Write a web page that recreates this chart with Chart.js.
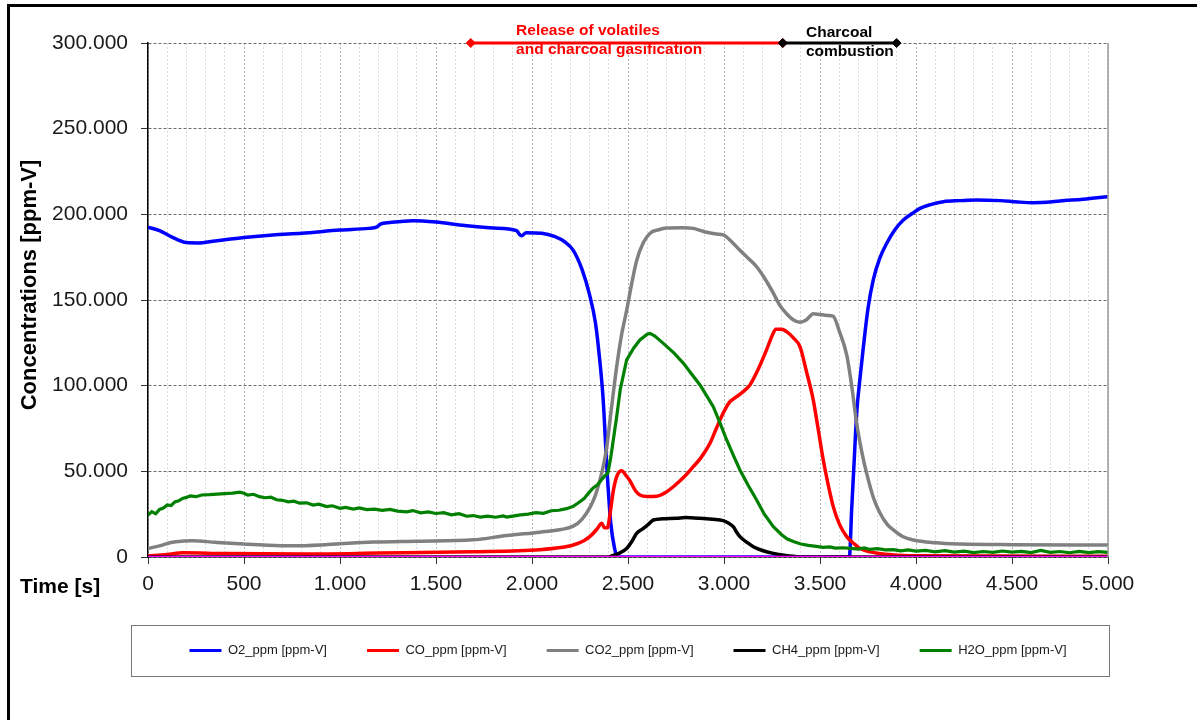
<!DOCTYPE html>
<html>
<head>
<meta charset="utf-8">
<script src="https://cdn.jsdelivr.net/npm/chart.js@4"></script>
<style>
  html, body { margin: 0; padding: 0; background: #fff; }
  #wrap { position: relative; width: 1197px; height: 720px; overflow: hidden; }
  #frame { position: absolute; left: 7px; top: 4px; width: 1300px; height: 800px;
           border-left: 3px solid #000; border-top: 3px solid #000; pointer-events: none; }
  canvas { position: absolute; left: 0; top: 0; }
</style>
</head>
<body>
<div id="wrap">
  <canvas id="chart" width="1197" height="720"></canvas>
  <div id="frame"></div>
</div>
<script>
// series labels (magenta baseline is not in the legend)
const seriesLabels = ['O2_ppm [ppm-V]', 'CO_ppm [ppm-V]', 'CO2_ppm [ppm-V]', 'CH4_ppm [ppm-V]', 'H2O_ppm [ppm-V]'];

// O2
const o2Time = [0, 60, 120, 200, 260, 350, 500, 650, 800, 1000, 1150, 1190, 1210, 1260, 1380, 1500, 1650, 1800, 1920, 1935, 1945, 1970, 2050, 2120, 2170, 2215, 2260, 2300, 2330, 2350, 2370, 2390, 2410, 2430, 2445, 3000, 3653, 3665, 3678, 3691, 3710, 3726, 3750, 3778, 3810, 3847, 3890, 3934, 3980, 4021, 4080, 4142, 4230, 4316, 4437, 4530, 4611, 4680, 4750, 4870, 5000];
const o2Values = [192500, 190500, 187000, 183500, 183300, 184500, 186500, 188000, 189000, 190800, 191800, 192500, 194300, 195200, 196300, 195500, 193500, 192000, 190500, 188200, 187500, 189300, 189000, 187000, 184000, 179000, 168000, 153000, 137000, 118000, 93000, 52000, 20000, 5000, 0, 0, 0, 28000, 56000, 84000, 106000, 122700, 145000, 162000, 174000, 183000, 191000, 196700, 200500, 203500, 205800, 207400, 208000, 208400, 208000, 207200, 206800, 207000, 207800, 208800, 210300];

// CO
const coTime = [0, 100, 184, 400, 826, 1200, 1694, 2042, 2150, 2215, 2270, 2302, 2340, 2363, 2378, 2392, 2410, 2424, 2445, 2467, 2490, 2510, 2540, 2562, 2600, 2649, 2700, 2736, 2790, 2840, 2880, 2927, 2960, 2996, 3030, 3066, 3100, 3135, 3180, 3222, 3250, 3270, 3300, 3326, 3360, 3396, 3430, 3465, 3490, 3517, 3545, 3569, 3600, 3639, 3680, 3708, 3760, 3880, 4000, 5000];
const coValues = [600, 1500, 2500, 2000, 1800, 2300, 3100, 4300, 5500, 7000, 9500, 12000, 16500, 19700, 17000, 17000, 28000, 39000, 48000, 50400, 47500, 44500, 38500, 36200, 35300, 35500, 38000, 41000, 46500, 52700, 58000, 66400, 75000, 84000, 90500, 93600, 96500, 100400, 110000, 121000, 129000, 133000, 133000, 131500, 128000, 122700, 108000, 91600, 75000, 56600, 41000, 29400, 19500, 11900, 7500, 5000, 3000, 1200, 700, 400];

// CO2
const co2Time = [0, 60, 120, 184, 230, 350, 479, 600, 740, 900, 1000, 1174, 1400, 1694, 1868, 2042, 2150, 2215, 2260, 2302, 2330, 2354, 2375, 2389, 2415, 2441, 2467, 2493, 2520, 2545, 2580, 2615, 2660, 2701, 2780, 2840, 2880, 2910, 2960, 2996, 3040, 3083, 3130, 3170, 3210, 3257, 3290, 3326, 3360, 3396, 3430, 3465, 3500, 3540, 3569, 3600, 3639, 3665, 3691, 3720, 3743, 3780, 3813, 3850, 3882, 3930, 3986, 4100, 4229, 4500, 5000];
const co2Values = [5000, 6500, 8500, 9300, 9500, 8600, 7700, 7000, 6500, 7000, 7800, 8700, 9200, 10000, 12500, 14500, 16000, 18000, 22000, 29000, 36000, 45000, 55000, 64000, 88000, 111000, 130000, 144000, 160000, 173000, 183500, 189000, 191000, 192000, 192200, 191800, 190500, 189500, 188500, 188000, 184000, 179000, 174000, 169400, 163000, 154000, 147000, 142000, 138500, 137000, 138500, 142000, 141500, 141000, 140500, 132000, 118000, 100000, 78000, 60000, 48800, 34000, 25500, 19000, 15800, 12000, 9900, 8300, 7600, 7200, 7000];

// CH4
const ch4Time = [0, 2400, 2415, 2450, 2493, 2520, 2545, 2580, 2610, 2632, 2680, 2753, 2800, 2875, 2940, 2996, 3020, 3048, 3066, 3083, 3120, 3153, 3200, 3257, 3320, 3361, 3420, 5000];
const ch4Values = [0, 0, 600, 2000, 5000, 9000, 13800, 16700, 19500, 21600, 22300, 22600, 23000, 22600, 22000, 21200, 20000, 17700, 14500, 11900, 8500, 6000, 3800, 2100, 900, 400, 0, 0];

// H2O
const h2oTime = [0, 20, 40, 60, 80, 100, 120, 140, 160, 180, 200, 219, 250, 280, 320, 360, 400, 440, 479, 500, 520, 550, 580, 610, 640, 670, 700, 730, 760, 790, 826, 860, 890, 930, 960, 1000, 1030, 1070, 1100, 1140, 1180, 1220, 1260, 1300, 1347, 1380, 1420, 1460, 1500, 1540, 1580, 1620, 1660, 1694, 1730, 1770, 1810, 1850, 1868, 1900, 1940, 1980, 2020, 2060, 2100, 2140, 2180, 2215, 2240, 2270, 2300, 2320, 2340, 2360, 2380, 2395, 2410, 2441, 2460, 2493, 2530, 2562, 2600, 2615, 2640, 2684, 2740, 2789, 2830, 2875, 2910, 2944, 2980, 3014, 3050, 3083, 3125, 3170, 3210, 3257, 3300, 3330, 3361, 3400, 3440, 3480, 3517, 3550, 3580, 3620, 3660, 3700, 3730, 3760, 3800, 3840, 3882, 3920, 3960, 4000, 4050, 4100, 4150, 4200, 4250, 4300, 4350, 4400, 4450, 4500, 4550, 4600, 4650, 4700, 4750, 4800, 4850, 4900, 4950, 5000];
const h2oValues = [24500, 26500, 25200, 27800, 28600, 30400, 30000, 32200, 32800, 34200, 34800, 35600, 35200, 36200, 36400, 36700, 37000, 37300, 37800, 37200, 36100, 36600, 35200, 34600, 34900, 33400, 33100, 32200, 32600, 31400, 31600, 30300, 30800, 29400, 29900, 28400, 28900, 28000, 28600, 27700, 27900, 27200, 27800, 26800, 26400, 27100, 25800, 26300, 25400, 25900, 24600, 25300, 23800, 24200, 23300, 23900, 23200, 24000, 23300, 23900, 24600, 25000, 25900, 25500, 27000, 27300, 28200, 29600, 31500, 34000, 38000, 40500, 42000, 44800, 47500, 49000, 58000, 81900, 98000, 115000, 122000, 126700, 130000, 130500, 129000, 124700, 119000, 113000, 107000, 100400, 94000, 87700, 78000, 68300, 59000, 50800, 42000, 33300, 25000, 17700, 13000, 10500, 9000, 7600, 6800, 6200, 5600, 5900, 5200, 5400, 5000, 4600, 5300, 4400, 4900, 4200, 4300, 3600, 4200, 3400, 3900, 3000, 3700, 2900, 3400, 2600, 3200, 2700, 3500, 2800, 3300, 2600, 3900, 2700, 3200, 2500, 3300, 2600, 3100, 2700];

// baseline (magenta)
const baseTime = [0, 5000];
const baseValues = [0, 0];

// phase annotations along the top edge
const phaseGasTime = [1681, 3306];
const phaseCombTime = [3306, 3899];
const phaseLevel = 300000;
const phaseGasText = ['Release of volatiles', 'and charcoal gasification'];
const phaseCombText = ['Charcoal', 'combustion'];
const phaseGasTextAt = 1917;
const phaseCombTextAt = 3427;

const fmt = v => String(v).replace(/\B(?=(\d{3})+(?!\d))/g, '.');
const pts = (t, v) => t.map((x, i) => ({ x: x, y: v[i] }));

const FONT = "'Liberation Sans', Arial, sans-serif";
Chart.defaults.font.family = FONT;
Chart.defaults.color = '#1a1a1a';

function series(label, t, v, color, order, extra) {
  return Object.assign({
    label: label,
    data: pts(t, v),
    borderColor: color,
    backgroundColor: color,
    borderWidth: 3.5,
    pointRadius: 0,
    cubicInterpolationMode: 'monotone',
    order: order
  }, extra || {});
}

const decorPlugin = {
  id: 'decor',
  afterDraw(chart) {
    const ctx = chart.ctx;
    const a = chart.chartArea;
    const xs = chart.scales.x;
    ctx.save();
    // right border of plot
    ctx.strokeStyle = '#9a9a9a';
    ctx.lineWidth = 1.5;
    ctx.beginPath();
    ctx.moveTo(a.right, a.top);
    ctx.lineTo(a.right, a.bottom);
    ctx.stroke();
    // legend frame
    ctx.strokeStyle = '#777';
    ctx.lineWidth = 1;
    ctx.strokeRect(131.5, 625.5, 978, 51);
    // axis titles
    ctx.fillStyle = '#000';
    ctx.font = 'bold 21px ' + FONT;
    ctx.textBaseline = 'middle';
    ctx.textAlign = 'left';
    ctx.fillText('Time [s]', 20, 587);
    ctx.save();
    ctx.translate(30, 285);
    ctx.rotate(-Math.PI / 2);
    ctx.textAlign = 'center';
    ctx.font = 'bold 22px ' + FONT;
    ctx.fillText('Concentrations [ppm-V]', 0, 0);
    ctx.restore();
    // phase labels
    ctx.font = 'bold 15.5px ' + FONT;
    ctx.textAlign = 'left';
    ctx.fillStyle = '#ff0000';
    const gx = xs.getPixelForValue(phaseGasTextAt);
    ctx.fillText(phaseGasText[0], gx, 31);
    ctx.fillText(phaseGasText[1], gx, 50);
    ctx.fillStyle = '#000';
    const cx = xs.getPixelForValue(phaseCombTextAt);
    ctx.fillText(phaseCombText[0], cx, 33);
    ctx.fillText(phaseCombText[1], cx, 52);
    ctx.restore();
  }
};

new Chart(document.getElementById('chart'), {
  type: 'line',
  data: {
    datasets: [
      series(seriesLabels[0], o2Time, o2Values, '#0000ff', 6),
      series(seriesLabels[1], coTime, coValues, '#ff0000', 5),
      series(seriesLabels[2], co2Time, co2Values, '#808080', 4),
      series(seriesLabels[3], ch4Time, ch4Values, '#000000', 3),
      series(seriesLabels[4], h2oTime, h2oValues, '#008000', 2, { cubicInterpolationMode: 'default', tension: 0, borderWidth: 3.2 }),
      series('', baseTime, baseValues, '#ff00ff', 1, { borderWidth: 2.5 }),
      series('', phaseGasTime, [phaseLevel, phaseLevel], '#ff0000', -1,
        { pointRadius: 4.5, pointStyle: 'rectRot', clip: false, borderWidth: 3, pointBorderWidth: 1 }),
      series('', phaseCombTime, [phaseLevel, phaseLevel], '#000000', -2,
        { pointRadius: 4.5, pointStyle: 'rectRot', clip: false, borderWidth: 3, pointBorderWidth: 1 })
    ]
  },
  options: {
    responsive: false,
    animation: false,
    events: [],
    layout: { padding: { left: 0, right: 89, top: 43, bottom: 53 } },
    scales: {
      x: {
        type: 'linear',
        min: 0,
        max: 5000,
        afterFit: s => { s.height = 47; },
        ticks: {
          stepSize: 100,
          autoSkip: false,
          maxRotation: 0,
          padding: 8,
          color: '#1a1a1a',
          font: { size: 21 },
          callback: v => (v % 500 === 0 ? fmt(v) : '')
        },
        grid: {
          color: c => (c.tick && c.tick.value % 500 === 0 ? '#b4b4b4' : '#dadada'),
          tickColor: c => (c.tick && c.tick.value % 500 === 0 ? '#333' : 'rgba(0,0,0,0)'),
          tickLength: 7,
          lineWidth: 1
        },
        border: { color: '#000', width: 1.5, dash: [2, 2] }
      },
      y: {
        min: 0,
        max: 300000,
        afterFit: s => { s.width = 148; },
        ticks: {
          stepSize: 50000,
          padding: 13,
          color: '#1a1a1a',
          font: { size: 21 },
          callback: v => fmt(v)
        },
        grid: { color: '#6e6e6e', tickColor: '#333', tickLength: 7, lineWidth: 1 },
        border: { color: '#000', width: 1.5, dash: [3, 2] }
      }
    },
    plugins: {
      tooltip: { enabled: false },
      legend: {
        position: 'bottom',
        fullSize: false,
        labels: {
          padding: 40,
          boxWidth: 32,
          boxHeight: 3,
          color: '#1a1a1a',
          font: { size: 13 },
          sort: (a, b) => a.datasetIndex - b.datasetIndex,
          filter: item => item.datasetIndex < 5,
          generateLabels: chart => Chart.defaults.plugins.legend.labels.generateLabels(chart)
            .map(l => Object.assign(l, { lineWidth: 0 }))
        }
      }
    }
  },
  plugins: [decorPlugin]
});
</script>
</body>
</html>
